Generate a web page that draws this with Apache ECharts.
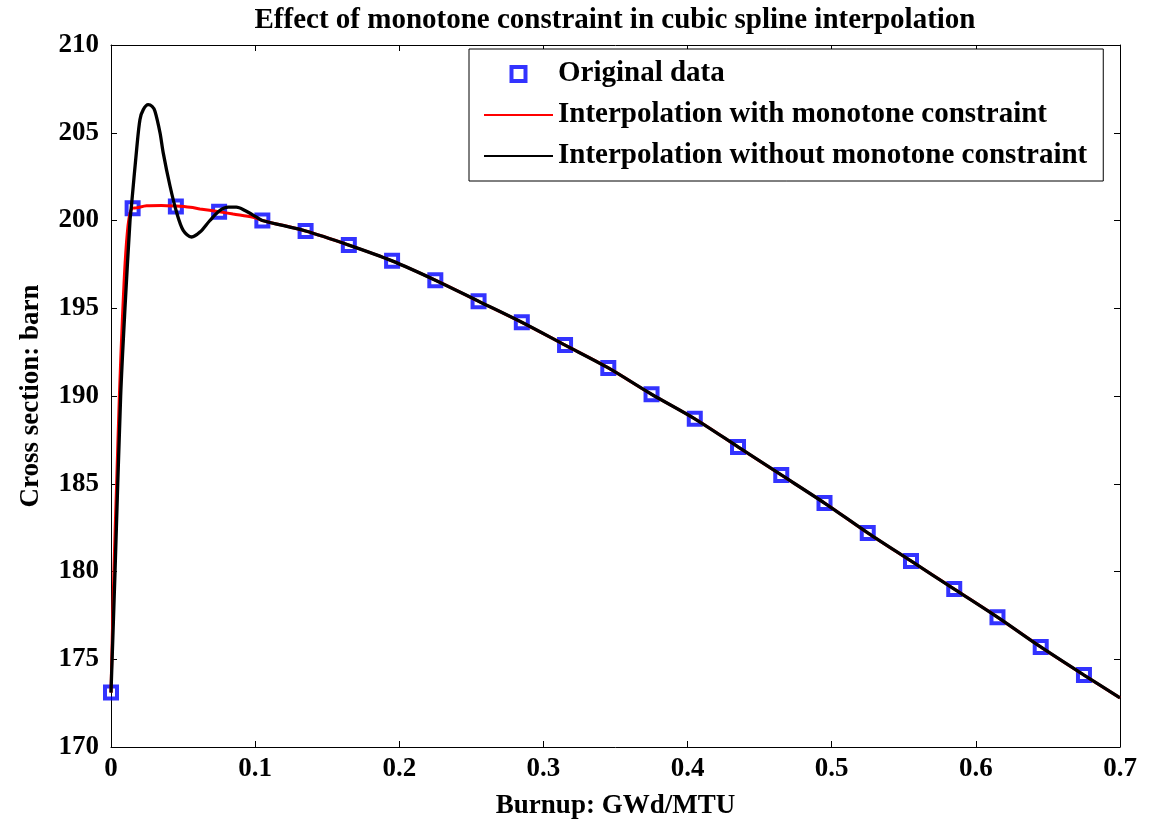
<!DOCTYPE html>
<html>
<head>
<meta charset="utf-8">
<script src="https://cdn.jsdelivr.net/npm/echarts@6/dist/echarts.min.js"></script>
<style>
  html, body { margin: 0; padding: 0; background: #ffffff; }
  #chart { width: 1153px; height: 825px; }
</style>
</head>
<body>
<div id="chart"></div>
<script>
// ---- data ----
var titleText = 'Effect of monotone constraint in cubic spline interpolation';
var xAxisName = 'Burnup: GWd/MTU';
var yAxisName = 'Cross section: barn';
var seriesNames = ['Original data', 'Interpolation with monotone constraint', 'Interpolation without monotone constraint'];

var xTickLabels = ['0', '0.1', '0.2', '0.3', '0.4', '0.5', '0.6', '0.7'];
var yTickLabels = ['170', '175', '180', '185', '190', '195', '200', '205', '210'];

// original data points
var dataX = [0, 0.015, 0.045, 0.075, 0.105, 0.135, 0.165, 0.195, 0.225, 0.255, 0.285, 0.315,
             0.345, 0.375, 0.405, 0.435, 0.465, 0.495, 0.525, 0.555, 0.585, 0.615, 0.645, 0.675];
var dataY = [173.1, 200.7, 200.8, 200.5, 200.0, 199.4, 198.6, 197.7, 196.6, 195.4, 194.2, 192.9,
             191.6, 190.1, 188.7, 187.1, 185.5, 183.9, 182.2, 180.6, 179.0, 177.4, 175.7, 174.1];

// shared tail of both interpolation curves (after x = 0.105)
var tailX = [0.135, 0.165, 0.195, 0.225, 0.255, 0.285, 0.315, 0.345, 0.375, 0.405, 0.435,
             0.465, 0.495, 0.525, 0.555, 0.585, 0.615, 0.645, 0.675, 0.7];
var tailY = [199.4, 198.6, 197.7, 196.6, 195.4, 194.2, 192.9, 191.6, 190.1, 188.7, 187.1,
             185.5, 183.9, 182.2, 180.6, 179.0, 177.4, 175.7, 174.1, 172.8];

// interpolation with monotone constraint: head part
var monoHeadX = [0, 0.002, 0.0039, 0.0058, 0.0078, 0.0098, 0.0118, 0.0135, 0.015, 0.0177, 0.0247, 0.035,
                 0.045, 0.055, 0.0617, 0.075, 0.0847, 0.0986, 0.105];
var monoHeadY = [173.1, 180, 185, 190, 194.2, 197.6, 199.7, 200.5, 200.7, 200.72, 200.84, 200.86,
                 200.82, 200.75, 200.66, 200.5, 200.37, 200.19, 200.0];

// interpolation without monotone constraint: head part
var freeHeadX = [0, 0.0028, 0.0067, 0.0097, 0.0132, 0.0142, 0.0178, 0.0201, 0.0224,
                 0.0258, 0.0285, 0.0305, 0.034, 0.0362, 0.0409, 0.0455, 0.0501, 0.0559, 0.0617, 0.0686,
                 0.0755, 0.0813, 0.087, 0.0929, 0.101, 0.105];
var freeHeadY = [173.1, 180, 190, 195, 200, 200.85, 204.06, 205.76, 206.32,
                 206.6, 206.5, 206.23, 205.0, 203.87, 201.98, 200.47, 199.44, 199.06, 199.34, 200.0,
                 200.57, 200.76, 200.76, 200.57, 200.19, 200.0];

function pairs(xs, ys) {
  var out = [];
  for (var i = 0; i < xs.length; i++) out.push([xs[i], ys[i]]);
  return out;
}

var monoData = pairs(monoHeadX.concat(tailX), monoHeadY.concat(tailY));
var freeData = pairs(freeHeadX.concat(tailX), freeHeadY.concat(tailY));
var origData = pairs(dataX, dataY);

var FONT = '"Liberation Serif", "Times New Roman", serif';

var chart = echarts.init(document.getElementById('chart'), null, { renderer: 'canvas' });

var axisCommonX = {
  type: 'value', min: 0, max: 0.7, interval: 0.1,
  axisLine: { show: true, onZero: false, lineStyle: { color: '#000', width: 1 } },
  axisTick: { show: true, inside: true, length: 6, lineStyle: { color: '#000', width: 1 } },
  splitLine: { show: false }
};
var axisCommonY = {
  type: 'value', min: 170, max: 210, interval: 5,
  axisLine: { show: true, onZero: false, lineStyle: { color: '#000', width: 1 } },
  axisTick: { show: true, inside: true, length: 6, lineStyle: { color: '#000', width: 1 } },
  splitLine: { show: false }
};

var option = {
  backgroundColor: '#ffffff',
  animation: false,
  title: {
    text: titleText,
    left: 610, top: 1, textAlign: 'center',
    textStyle: { fontFamily: FONT, fontWeight: 'bold', fontSize: 29, color: '#000' }
  },
  grid: { left: 111, right: 33, top: 45, bottom: 73, containLabel: false },
  legend: {
    orient: 'vertical',
    left: 469, top: 49,
    padding: [10, 16, 10, 14],
    itemGap: 11,
    itemWidth: 69, itemHeight: 14,
    backgroundColor: '#ffffff',
    borderColor: '#000', borderWidth: 1, borderRadius: 0,
    textStyle: { fontFamily: FONT, fontWeight: 'bold', fontSize: 29, color: '#000', lineHeight: 30 },
    data: [
      { name: seriesNames[0], icon: 'path://M0,0L10,0L10,10L0,10Z',
        itemStyle: { color: 'rgba(0,0,0,0)', borderColor: '#0000ff', borderWidth: 4 } },
      { name: seriesNames[1], itemStyle: { opacity: 0 } },
      { name: seriesNames[2], itemStyle: { opacity: 0 } }
    ]
  },
  xAxis: [
    Object.assign({}, axisCommonX, {
      position: 'bottom',
      name: xAxisName, nameLocation: 'middle', nameGap: 46,
      nameTextStyle: { fontFamily: FONT, fontWeight: 'bold', fontSize: 27, color: '#000' },
      axisLabel: {
        show: true, margin: 9, color: '#000',
        fontFamily: FONT, fontWeight: 'bold', fontSize: 27,
        formatter: function (v) { return xTickLabels[Math.round(v * 10)]; }
      }
    }),
    Object.assign({}, axisCommonX, { position: 'top', axisLabel: { show: false } })
  ],
  yAxis: [
    Object.assign({}, axisCommonY, {
      position: 'left',
      name: yAxisName, nameLocation: 'middle', nameGap: 66, nameRotate: 90,
      nameTextStyle: { fontFamily: FONT, fontWeight: 'bold', fontSize: 27, color: '#000' },
      axisLabel: {
        show: true, margin: 12, color: '#000',
        fontFamily: FONT, fontWeight: 'bold', fontSize: 27,
        formatter: function (v) { return yTickLabels[Math.round((v - 170) / 5)]; }
      }
    }),
    Object.assign({}, axisCommonY, { position: 'right', axisLabel: { show: false } })
  ],
  series: [
    {
      name: seriesNames[0], type: 'scatter',
      xAxisIndex: 0, yAxisIndex: 0,
      symbol: 'rect', symbolSize: 12,
      itemStyle: { color: 'rgba(0,0,0,0)', borderColor: '#0000ff', borderWidth: 4 },
      data: origData, z: 2
    },
    {
      name: seriesNames[1], type: 'line',
      xAxisIndex: 0, yAxisIndex: 0,
      showSymbol: false, symbol: 'none',
      smooth: 0.3,
      lineStyle: { color: '#ff0000', width: 3 },
      itemStyle: { color: '#ff0000' },
      data: monoData, z: 3
    },
    {
      name: seriesNames[2], type: 'line',
      xAxisIndex: 0, yAxisIndex: 0,
      showSymbol: false, symbol: 'none',
      smooth: 0.3,
      lineStyle: { color: '#000000', width: 3.3 },
      itemStyle: { color: '#000000' },
      data: freeData, z: 4
    }
  ]
};

chart.setOption(option);
</script>
</body>
</html>
